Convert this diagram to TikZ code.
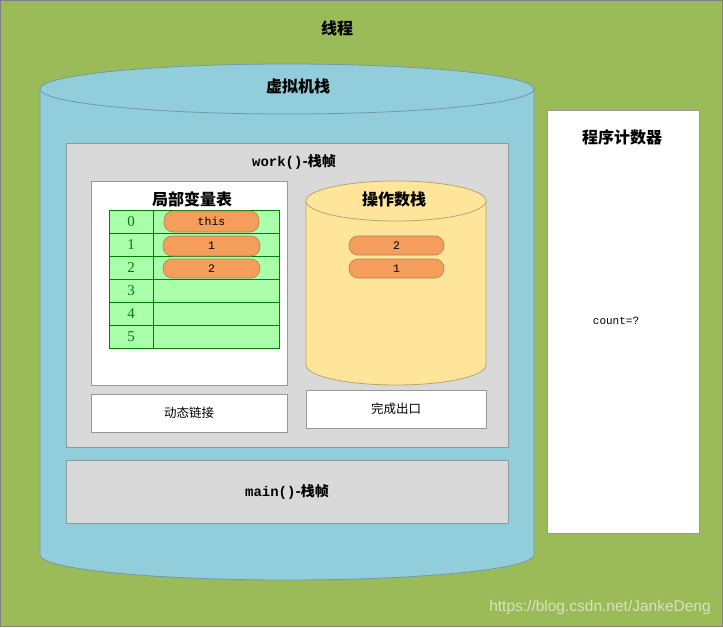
\documentclass[tikz,border=0pt]{standalone}
\usepackage{fontspec}
\newfontfamily\cjk{Noto Sans CJK SC}
\newfontfamily\monof{Liberation Mono}
\newfontfamily\seriff{Liberation Serif}
\newfontfamily\sansf{Liberation Sans}
\usetikzlibrary{positioning}
\definecolor{threadgreen}{HTML}{9BBB59}
\definecolor{cylblue}{HTML}{92CDDC}
\definecolor{cylline}{HTML}{6F9AA6}
\definecolor{framegray}{HTML}{D9D9D9}
\definecolor{frameline}{HTML}{8A9CA2}
\definecolor{stackyellow}{HTML}{FFE599}
\definecolor{stackline}{HTML}{B8A470}
\definecolor{cellgreen}{HTML}{AAFFAA}
\definecolor{cellline}{HTML}{008000}
\definecolor{pillorange}{HTML}{F59D5A}
\definecolor{pillline}{HTML}{A8845C}
\tikzset{
  whitebox/.style={draw=gray!80, fill=white, line width=0.8pt, inner sep=0pt},
  framebox/.style={draw=frameline, fill=framegray, line width=0.8pt, inner sep=0pt},
  cell/.style={draw=cellline, fill=cellgreen, line width=0.8pt, inner sep=0pt, minimum height=23pt, text=cellline, font=\seriff\fontsize{15}{15}\selectfont},
  pill/.style={draw=pillline, fill=pillorange, line width=0.6pt, rounded corners=9pt, inner sep=0pt, font=\monof\fontsize{11.5}{11.5}\selectfont},
  title/.style={font=\cjk\bfseries\fontsize{16}{16}\selectfont, inner sep=0pt},
  small/.style={font=\cjk\fontsize{12.5}{12.5}\selectfont, inner sep=0pt},
}
\begin{document}
\begin{tikzpicture}[x=1pt,y=-1pt]
\useasboundingbox (0,0) rectangle (723,627);
% thread background
\node[draw=gray, fill=threadgreen, line width=1pt, minimum width=722pt, minimum height=626pt, inner sep=0pt] (thread) at (361.5,313.5) {};
\node[title] (threadlbl) at (337,28) {线程};
% JVM stack cylinder
\path[draw=cylline, fill=cylblue, line width=0.8pt] (40,89) -- (40,555) arc[start angle=180, end angle=0, x radius=247, y radius=25] -- (534,89) -- cycle;
\path[draw=cylline, fill=cylblue, line width=0.8pt] (287,89) ellipse[x radius=247, y radius=25];
\node[title] (jvmlbl) at (298,86) {虚拟机栈};
% work frame
\node[framebox, minimum width=442pt, minimum height=304pt] (work) at (287,295) {};
\node[inner sep=0pt] (worklbl) at (294,162) {\monof\bfseries\fontsize{14}{14}\selectfont work()\cjk\bfseries -栈帧};
% local variable table
\node[whitebox, minimum width=196pt, minimum height=204pt] (lvt) at (189,283) {};
\node[title] (lvtlbl) at (192,199) {局部变量表};
\foreach \i/\y in {0/221.5,1/244.5,2/267.5,3/290.5,4/313.5,5/336.5}{
  \node[cell, minimum width=44pt] (idx\i) at (131,\y) {\i};
  \node[cell, minimum width=126pt] (val\i) at (216,\y) {};
}
\node[pill, minimum width=95pt, minimum height=21pt] (p0) at (211.5,221.5) {this};
\node[pill, minimum width=97pt, minimum height=20pt] (p1) at (211.5,246) {1};
\node[pill, minimum width=97pt, minimum height=19pt] (p2) at (211.5,268.5) {2};
% operand stack cylinder
\path[draw=stackline, fill=stackyellow, line width=0.8pt] (306,201) -- (306,365) arc[start angle=180, end angle=0, x radius=90, y radius=20] -- (486,201) -- cycle;
\path[draw=stackline, fill=stackyellow, line width=0.8pt] (396,201) ellipse[x radius=90, y radius=20];
\node[title] (oslbl) at (394,199) {操作数栈};
\node[pill, minimum width=95pt, minimum height=19pt] (s2) at (396.5,245.5) {2};
\node[pill, minimum width=95pt, minimum height=19pt] (s1) at (396.5,268.5) {1};
% dynamic link and return
\node[whitebox, minimum width=196pt, minimum height=38pt, small] (dyn) at (189,413) {动态链接};
\node[whitebox, minimum width=180pt, minimum height=38pt, small] (ret) at (396,409) {完成出口};
% main frame
\node[framebox, minimum width=442pt, minimum height=63pt] (main) at (287,491.5) {};
\node[inner sep=0pt] (mainlbl) at (287,492) {\monof\bfseries\fontsize{14}{14}\selectfont main()\cjk\bfseries -栈帧};
% program counter
\node[whitebox, minimum width=152pt, minimum height=423pt] (pc) at (623,321.5) {};
\node[title] (pclbl) at (622,137) {程序计数器};
\node[inner sep=0pt, font=\monof\fontsize{11}{11}\selectfont] (count) at (616,321) {count=?};
% watermark
\node[inner sep=0pt, text=white, text opacity=0.6, font=\sansf\fontsize{15.5}{15.5}\selectfont] (wm) at (600,607) {https://blog.csdn.net/JankeDeng};
\end{tikzpicture}
\end{document}
